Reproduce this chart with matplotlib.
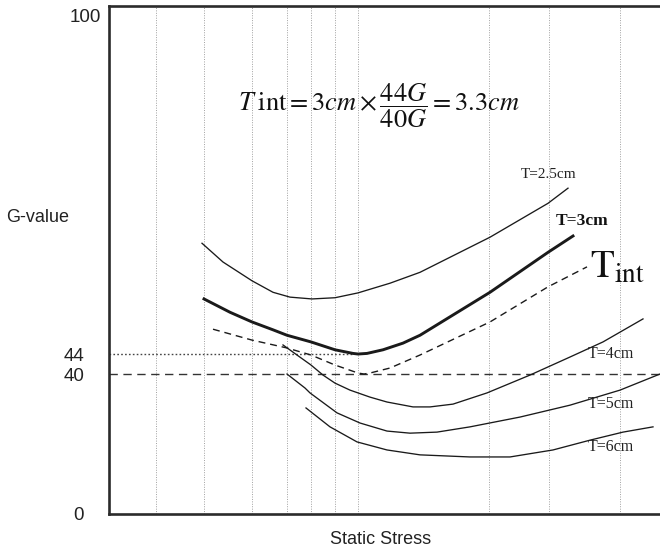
import numpy as np
import matplotlib
matplotlib.use('Agg')
import matplotlib.pyplot as plt
import matplotlib.transforms as mtrans

plt.rcParams['mathtext.fontset'] = 'stix'

# ---------------- data ----------------
grid_x = [9.4, 19.0, 28.6, 35.6, 40.4, 45.2, 49.8, 76.0, 88.0, 102.2]
ytick_values = [0, 40, 44, 100]
ytick_labels = ['0', '40', '44', '100']

x_t25 = [18.6, 22.8, 28.6, 32.8, 36.2, 40.6, 45.2, 49.8, 56.2, 62.2, 76.2, 87.8, 91.8]
g_t25 = [62.3, 59.2, 56.1, 54.2, 53.4, 53.1, 53.3, 54.1, 55.7, 57.5, 63.3, 68.9, 71.4]

x_t3 = [19.0, 24.2, 28.6, 32.8, 35.6, 40.4, 45.2, 48.8, 49.8, 51.6, 54.8, 58.8, 62.2, 76.2, 87.8, 92.8]
g_t3 = [53.1, 50.9, 49.3, 48.0, 47.1, 46.0, 44.7, 44.1, 44.0, 44.1, 44.7, 45.8, 47.1, 54.2, 60.8, 63.5]

x_tint = [20.8, 28.6, 35.6, 40.4, 45.2, 49.8, 51.0, 52.2, 56.2, 62.2, 76.2, 87.8, 95.6]
g_tint = [48.1, 46.3, 45.0, 43.8, 41.8, 40.2, 40.0, 40.2, 41.2, 43.8, 49.3, 55.1, 58.4]

x_t4 = [34.8, 37.6, 40.4, 42.8, 45.2, 48.2, 52.2, 55.6, 60.8, 64.2, 68.8, 75.6, 84.2, 92.2, 98.8, 106.8]
g_t4 = [45.5, 43.8, 41.8, 39.7, 37.4, 35.4, 33.4, 32.0, 30.6, 30.6, 31.4, 34.6, 39.7, 43.4, 46.0, 49.8]

x_t5 = [35.6, 39.2, 40.2, 45.6, 50.2, 55.6, 60.2, 65.6, 72.2, 82.2, 92.2, 102.2, 110.2]
g_t5 = [40.0, 36.0, 34.6, 28.9, 26.0, 23.7, 23.1, 23.4, 24.9, 27.7, 31.1, 35.4, 40.0]

x_t6 = [39.4, 44.2, 49.6, 55.6, 62.2, 72.2, 80.2, 88.8, 96.2, 102.8, 108.8]
g_t6 = [30.3, 24.9, 20.6, 18.3, 16.9, 16.3, 16.3, 18.3, 21.1, 23.4, 24.9]

level_tint = 44
level_ref = 40
x_tint_level_end = 49.0

# non-linear (schematic) G-value axis
scale_vals = [0, 40, 44, 100, 120]
scale_pos = [0, 140, 160, 499, 620]


def fwd(v):
    return np.interp(v, scale_vals, scale_pos)


def inv(p):
    return np.interp(p, scale_pos, scale_vals)


# ---------------- figure ----------------
fig = plt.figure(figsize=(6.6, 5.55), dpi=100)
ax = fig.add_axes([109 / 660, 41 / 555, 551 / 660, 508 / 555])
ax.set_yscale('function', functions=(fwd, inv))
ax.set_xlim(0, 110.2)
ax.set_ylim(0, 101.5)

dark = '#1a1a1a'
for gx in grid_x:
    ax.axvline(gx, color='#a0a0a0', lw=0.7, linestyle=(0, (1, 1.5)), zorder=1)

ax.hlines(level_tint, 0, x_tint_level_end, colors='#444444', lw=1.0,
          linestyles=[(0, (1.2, 1.6))], zorder=2)
ax.hlines(level_ref, 0, 110.2, colors='#333333', lw=1.0,
          linestyles=[(0, (6, 4))], zorder=2)

ax.plot(x_t25, g_t25, color=dark, lw=0.95, zorder=3)
ax.plot(x_t3, g_t3, color=dark, lw=2.1, zorder=3)
ax.plot(x_tint, g_tint, color=dark, lw=1.0, linestyle=(0, (5, 3.5)), zorder=3)
ax.plot(x_t4, g_t4, color=dark, lw=0.95, zorder=3)
ax.plot(x_t5, g_t5, color=dark, lw=0.95, zorder=3)
ax.plot(x_t6, g_t6, color=dark, lw=0.95, zorder=3)

serif = 'Liberation Serif'
ax.text(88.0, 73.6, 'T=2.5cm', family=serif, fontsize=11, color='#222',
        ha='center', va='center')
ax.text(94.6, 66.0, 'T=3cm', family=serif, fontsize=12.5, fontweight='bold',
        color='#111', ha='center', va='center')
ax.text(100.4, 44.0, 'T=4cm', family=serif, fontsize=11.5, color='#222',
        ha='center', va='center')
ax.text(100.4, 31.4, 'T=5cm', family=serif, fontsize=11.5, color='#222',
        ha='center', va='center')
ax.text(100.4, 19.1, 'T=6cm', family=serif, fontsize=11.5, color='#222',
        ha='center', va='center')
ax.text(96.2, 56.6, r'$\mathrm{T}_{\mathrm{int}}$', fontsize=28, color='#111',
        ha='left', va='baseline')
ax.text(53.9, 85.0, r'$T\;\mathrm{int} = 3cm \times \dfrac{44G}{40G} = 3.3cm$',
        fontsize=19, color='#111', ha='center', va='center')

# spines / ticks
for side in ['left', 'bottom', 'top']:
    ax.spines[side].set_linewidth(1.9)
    ax.spines[side].set_color('#2b2b2b')
ax.spines['right'].set_visible(False)

ax.set_xticks([])
ax.set_yticks(ytick_values)
ax.set_yticklabels(ytick_labels, family='Liberation Sans', fontsize=13.5, color='#222')
ax.tick_params(axis='y', length=0, pad=18)
for lab in ax.get_yticklabels():
    if lab.get_text() == '100':
        lab.set_transform(lab.get_transform() +
                          mtrans.ScaledTranslation(0.17, 0, fig.dpi_scale_trans))

fig.text(38 / 660, 1 - 217 / 555, 'G-value', family='Liberation Sans', fontsize=13,
         color='#222', ha='center', va='center')
fig.text(381 / 660, 1 - 540 / 555, 'Static Stress', family='Liberation Sans',
         fontsize=13, color='#222', ha='center', va='center')

fig.savefig('out.png', dpi=100)
